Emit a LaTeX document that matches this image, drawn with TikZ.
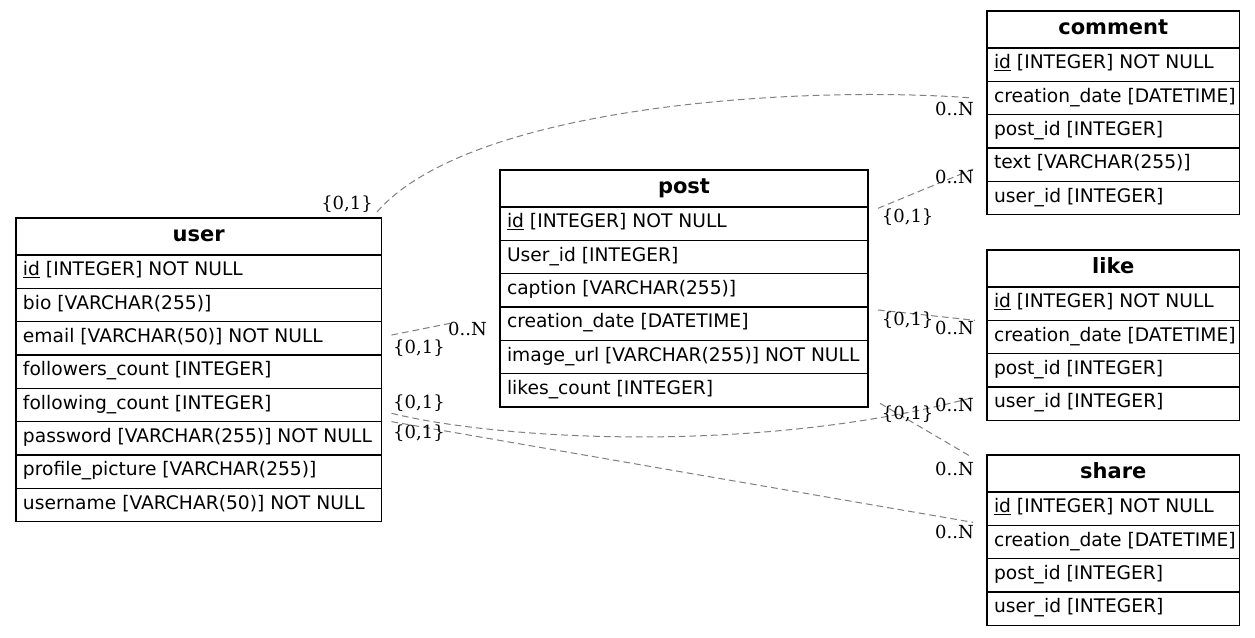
\documentclass[tikz,border=0pt]{standalone}
\usepackage{fontspec}
\setmainfont{DejaVu Sans}
\newfontfamily\lblfont{DejaVu Serif}
\usetikzlibrary{calc}
\newlength\fw
\newcommand\fld[1]{\makebox[\fw][l]{#1}}
\tikzset{
  tbl/.style={draw=black, line width=1.2pt, outer sep=0pt, inner xsep=7pt, inner ysep=0pt,
    anchor=north west, text height=8.4pt, text depth=0pt,
    font=\fontsize{18.67pt}{22pt}\selectfont},
  hdr/.style={tbl, minimum width=#1, minimum height=37pt, text height=10pt,
    font=\fontsize{21pt}{24pt}\selectfont\bfseries},
  row/.style={tbl, minimum width=#1, minimum height=33.33pt},
  lbl/.style={inner sep=0pt, font=\lblfont\fontsize{18pt}{21pt}\selectfont},
  rel/.style={draw={rgb,255:red,128;green,128;blue,128}, line width=1pt, dash pattern=on 6.7pt off 4pt}
}
\begin{document}
\begin{tikzpicture}[x=1pt, y=-1pt]
\fill[white] (0,0) rectangle (1255,637);
\useasboundingbox (0,0) rectangle (1255,637);
% user
\setlength\fw{351.5pt}
\node[hdr=365.5pt] (u-h) at (16,218) {user};
\node[row=365.5pt] (u-1) at (u-h.south west) {\fld{\underline{id} [INTEGER] NOT NULL}};
\node[row=365.5pt] (u-2) at (u-1.south west) {\fld{bio [VARCHAR(255)]}};
\node[row=365.5pt] (u-3) at (u-2.south west) {\fld{email [VARCHAR(50)] NOT NULL}};
\node[row=365.5pt] (u-4) at (u-3.south west) {\fld{followers\_count [INTEGER]}};
\node[row=365.5pt] (u-5) at (u-4.south west) {\fld{following\_count [INTEGER]}};
\node[row=365.5pt] (u-6) at (u-5.south west) {\fld{password [VARCHAR(255)] NOT NULL}};
\node[row=365.5pt] (u-7) at (u-6.south west) {\fld{profile\_picture [VARCHAR(255)]}};
\node[row=365.5pt] (u-8) at (u-7.south west) {\fld{username [VARCHAR(50)] NOT NULL}};
% post
\setlength\fw{354pt}
\node[hdr=368pt] (p-h) at (500,170) {post};
\node[row=368pt] (p-1) at (p-h.south west) {\fld{\underline{id} [INTEGER] NOT NULL}};
\node[row=368pt] (p-2) at (p-1.south west) {\fld{User\_id [INTEGER]}};
\node[row=368pt] (p-3) at (p-2.south west) {\fld{caption [VARCHAR(255)]}};
\node[row=368pt] (p-4) at (p-3.south west) {\fld{creation\_date [DATETIME]}};
\node[row=368pt] (p-5) at (p-4.south west) {\fld{image\_url [VARCHAR(255)] NOT NULL}};
\node[row=368pt] (p-6) at (p-5.south west) {\fld{likes\_count [INTEGER]}};
% comment
\setlength\fw{238.5pt}
\node[hdr=252.5pt] (c-h) at (987,11) {comment};
\node[row=252.5pt] (c-1) at (c-h.south west) {\fld{\underline{id} [INTEGER] NOT NULL}};
\node[row=252.5pt] (c-2) at (c-1.south west) {\fld{creation\_date [DATETIME]}};
\node[row=252.5pt] (c-3) at (c-2.south west) {\fld{post\_id [INTEGER]}};
\node[row=252.5pt] (c-4) at (c-3.south west) {\fld{text [VARCHAR(255)]}};
\node[row=252.5pt] (c-5) at (c-4.south west) {\fld{user\_id [INTEGER]}};
% like
\node[hdr=252.5pt] (l-h) at (987,250) {like};
\node[row=252.5pt] (l-1) at (l-h.south west) {\fld{\underline{id} [INTEGER] NOT NULL}};
\node[row=252.5pt] (l-2) at (l-1.south west) {\fld{creation\_date [DATETIME]}};
\node[row=252.5pt] (l-3) at (l-2.south west) {\fld{post\_id [INTEGER]}};
\node[row=252.5pt] (l-4) at (l-3.south west) {\fld{user\_id [INTEGER]}};
% share
\node[hdr=252.5pt] (s-h) at (987,455) {share};
\node[row=252.5pt] (s-1) at (s-h.south west) {\fld{\underline{id} [INTEGER] NOT NULL}};
\node[row=252.5pt] (s-2) at (s-1.south west) {\fld{creation\_date [DATETIME]}};
\node[row=252.5pt] (s-3) at (s-2.south west) {\fld{post\_id [INTEGER]}};
\node[row=252.5pt] (s-4) at (s-3.south west) {\fld{user\_id [INTEGER]}};
% connectors
\draw[rel] ($(u-h.north east)+(-4.5,-6)$) .. controls (470,105) and (800,85) .. ($(c-2.west)+(-14,0)$);
\draw[rel] ($(p-h.south east)+(10,1.3)$) -- ($(c-4.west)+(-12,3.7)$);
\draw[rel] ($(u-3.east)+(10,-3.3)$) -- ($(p-4.west)+(-50,-0.3)$);
\draw[rel] ($(p-4.east)+(10,-13.7)$) -- ($(l-1.south west)+(-12,0)$);
\draw[rel] ($(u-5.east)+(10,8.3)$) .. controls (500,440) and (760,455) .. ($(l-4.west)+(-12,-6.7)$);
\draw[rel] ($(p-6.east)+(12,13)$) -- ($(s-h.north west)+(-16,1.7)$);
\draw[rel] ($(u-5.south east)+(10,0)$) -- ($(s-1.south west)+(-14,-3)$);
% cardinality labels
\node[lbl, anchor=base east] (m1a) at (373,209.5) {\{0,1\}};
\node[lbl, anchor=base east] (m1b) at (974,115) {0..N};
\node[lbl, anchor=base west] (m2a) at (881.7,222) {\{0,1\}};
\node[lbl, anchor=base east] (m2b) at (974,183) {0..N};
\node[lbl, anchor=base west] (m3a) at (393,353.3) {\{0,1\}};
\node[lbl, anchor=base west] (m3b) at (448,335) {0..N};
\node[lbl, anchor=base west] (m4a) at (881.7,325) {\{0,1\}};
\node[lbl, anchor=base east] (m4b) at (974,334) {0..N};
\node[lbl, anchor=base west] (m5a) at (393,408.3) {\{0,1\}};
\node[lbl, anchor=base east] (m5b) at (974,411) {0..N};
\node[lbl, anchor=base west] (m6a) at (881.7,419.3) {\{0,1\}};
\node[lbl, anchor=base east] (m6b) at (974,475) {0..N};
\node[lbl, anchor=base west] (m7a) at (393,438.3) {\{0,1\}};
\node[lbl, anchor=base east] (m7b) at (974,538) {0..N};
\end{tikzpicture}
\end{document}
